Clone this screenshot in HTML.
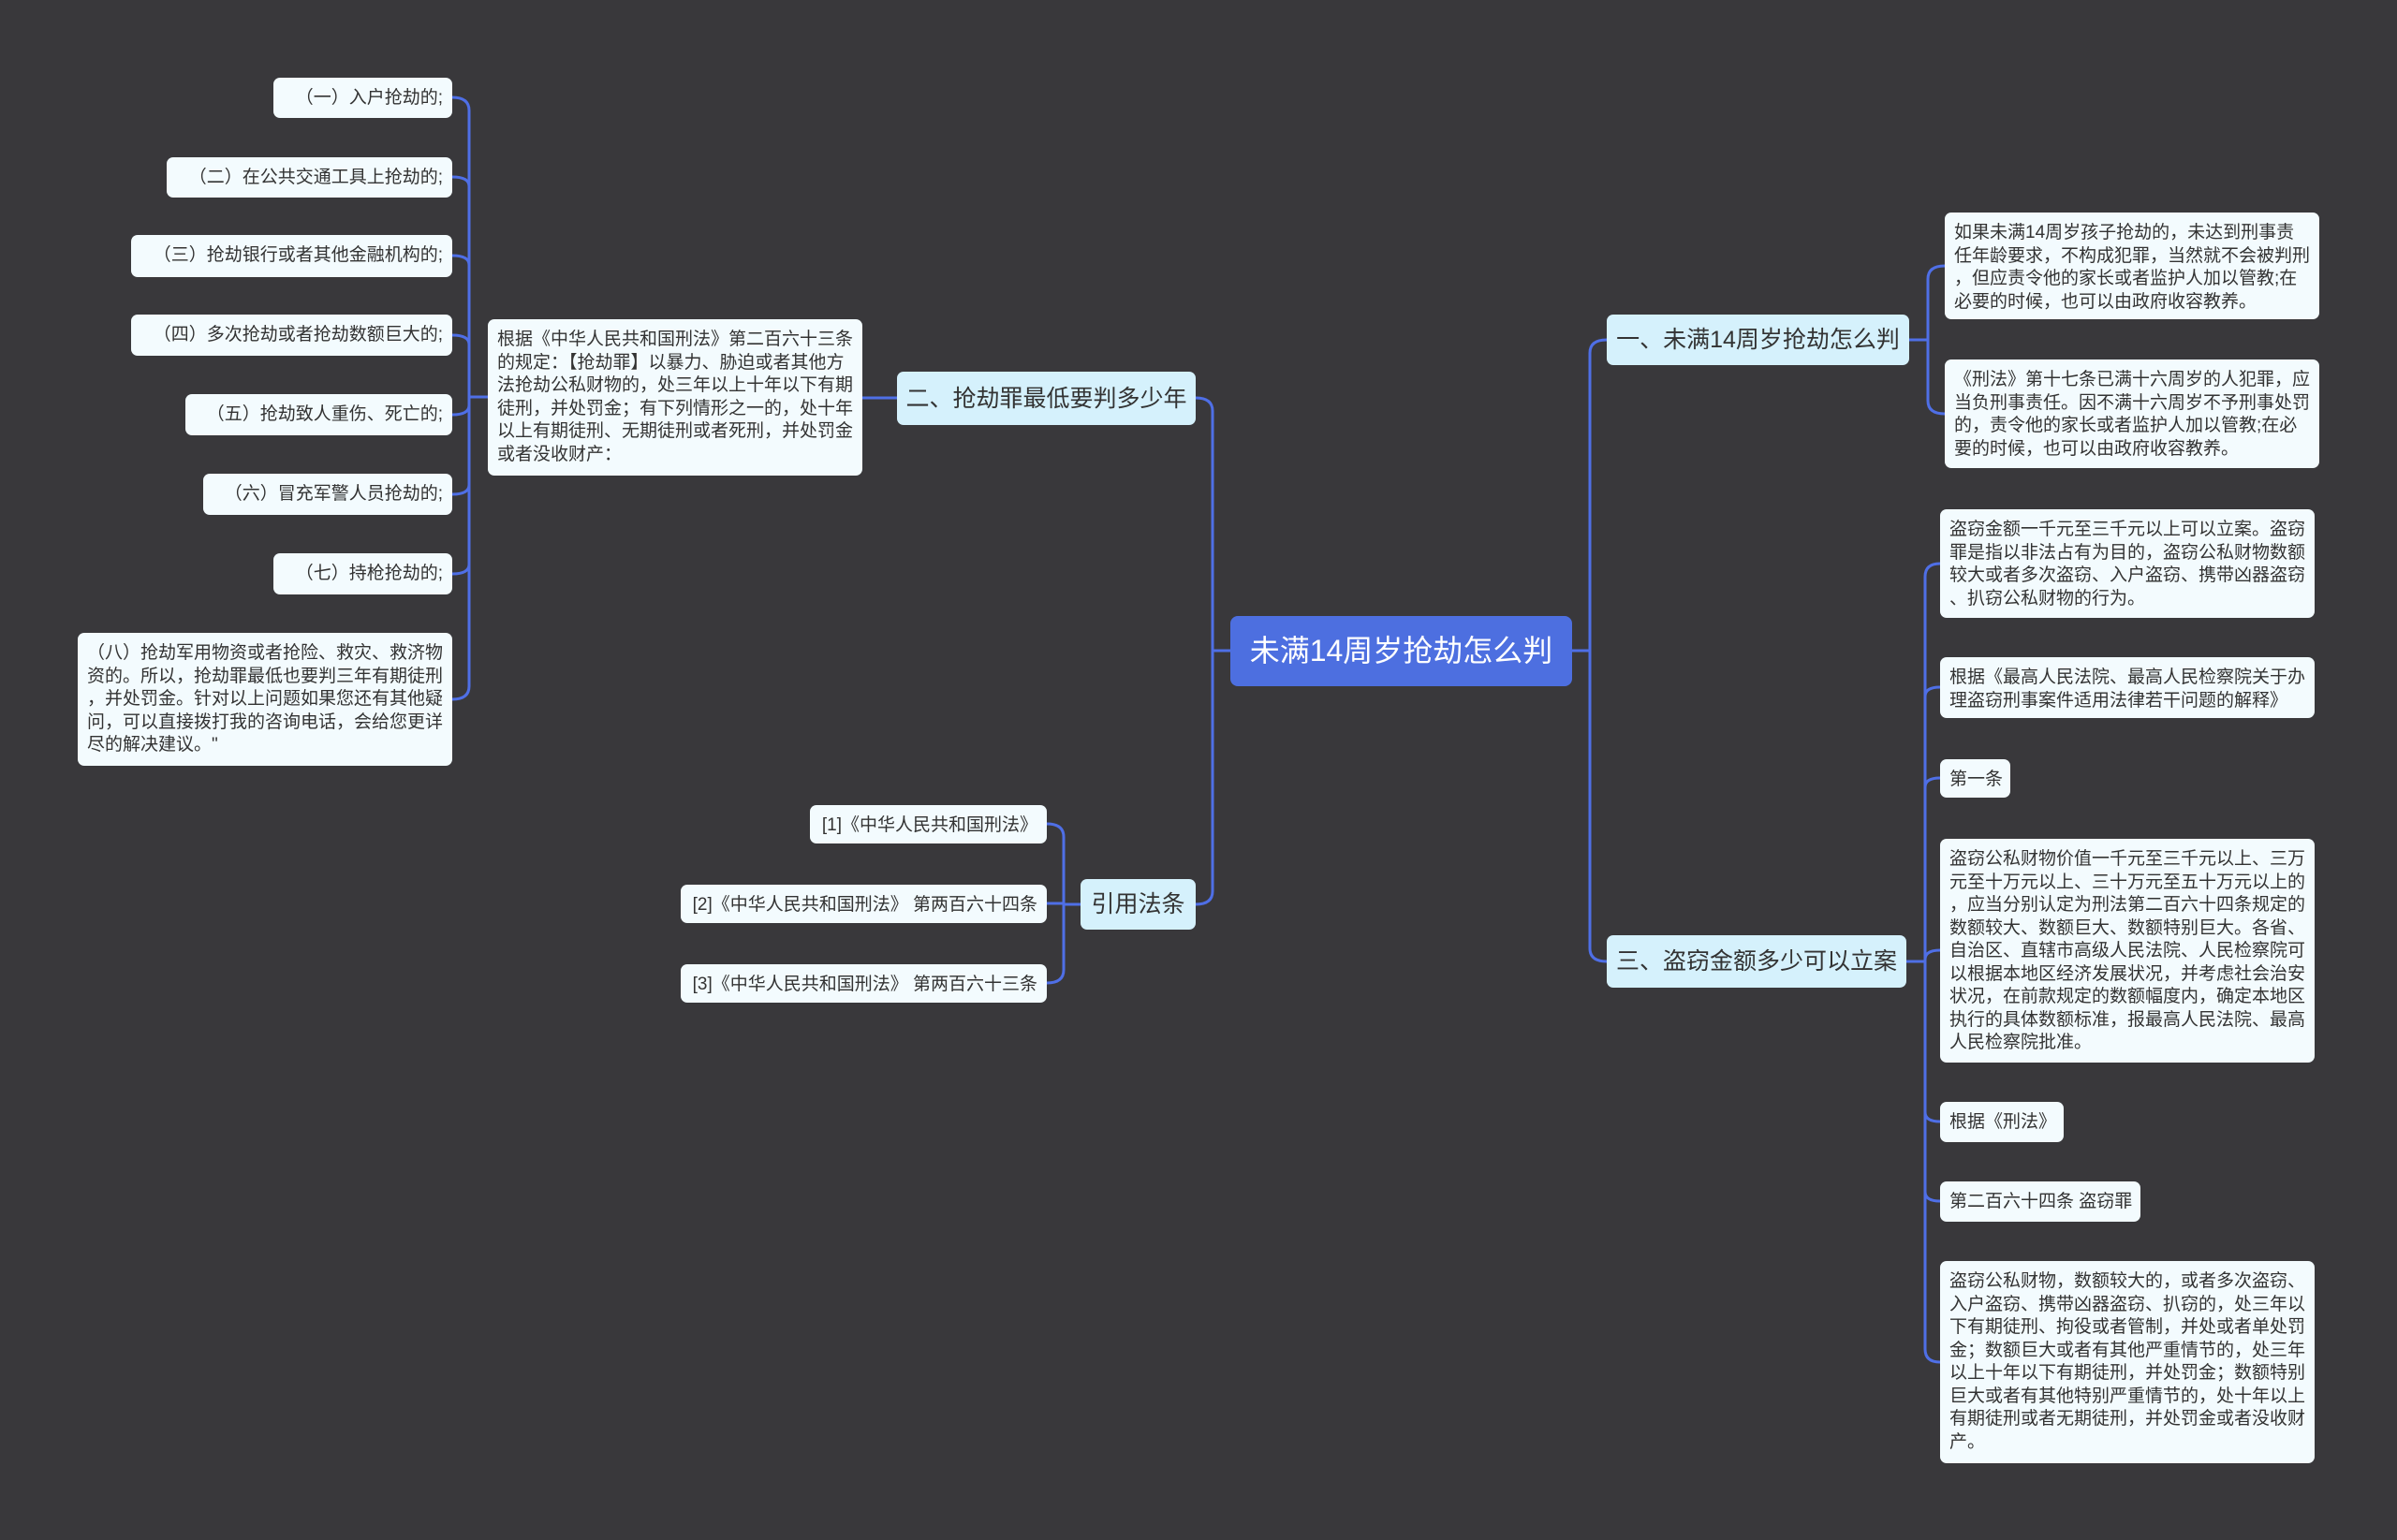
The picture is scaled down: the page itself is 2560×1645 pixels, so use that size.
<!DOCTYPE html>
<html><head><meta charset="utf-8"><style>
body{margin:0;width:2560px;height:1645px;background:#39383b;overflow:hidden;font-family:"Liberation Sans","Noto Sans CJK SC",sans-serif}
.n{position:absolute;box-sizing:border-box;background:#f3fbfe;border-radius:7px;color:#333;font-size:19px;line-height:24.5px;padding:10px 10px 8px;white-space:nowrap}
.r{text-align:right}
.b{background:#d5f1fc;font-size:25px;line-height:30px;display:flex;align-items:center;justify-content:center;padding:0}
.root{background:#4d6fe0;color:#fff;font-size:32px;display:flex;align-items:center;justify-content:center;padding:0;border-radius:8px}
svg{position:absolute;left:0;top:0}
</style></head><body>
<svg width="2560" height="1645" fill="none" stroke="#4f6fe6" stroke-width="3">
<path d="M483,104 Q501,104 501,118 V733 Q501,747 483,747"/>
<path d="M483,189 Q501,189 501,199 M483,273 Q501,273 501,283 M483,358 Q501,358 501,368 M483,443 Q501,443 501,433 M483,528 Q501,528 501,518 M483,613 Q501,613 501,603"/>
<path d="M501,424 H521 M921,425 H958"/>
<path d="M1277,425 Q1295,425 1295,439 V952 Q1295,966 1277,966 M1295,695 H1314"/>
<path d="M1154,966 H1136 M1118,880 Q1136,880 1136,894 V1036 Q1136,1050 1118,1050 M1118,965 H1136"/>
<path d="M1679,695 H1698 M1716,363 Q1698,363 1698,377 V1013 Q1698,1027 1716,1027"/>
<path d="M2039,363 H2059 M2077,284 Q2059,284 2059,298 V428 Q2059,442 2077,442"/>
<path d="M2036,1027 H2056 M2072,602 Q2056,602 2056,616 V1441 Q2056,1455 2072,1455"/>
<path d="M2072,734 Q2056,734 2056,744 M2072,831 Q2056,831 2056,841 M2072,1015 Q2056,1015 2056,1025 M2072,1198 Q2056,1198 2056,1188 M2072,1283 Q2056,1283 2056,1273"/>
</svg>

<div class="n r" style="left:292px;top:83px;width:191px;height:43px">（一）入户抢劫的;</div>
<div class="n r" style="left:178px;top:168px;width:305px;height:43px">（二）在公共交通工具上抢劫的;</div>
<div class="n r" style="left:140px;top:251px;width:343px;height:45px">（三）抢劫银行或者其他金融机构的;</div>
<div class="n r" style="left:140px;top:336px;width:343px;height:44px">（四）多次抢劫或者抢劫数额巨大的;</div>
<div class="n r" style="left:198px;top:421px;width:285px;height:44px">（五）抢劫致人重伤、死亡的;</div>
<div class="n r" style="left:217px;top:506px;width:266px;height:44px">（六）冒充军警人员抢劫的;</div>
<div class="n r" style="left:292px;top:591px;width:191px;height:44px">（七）持枪抢劫的;</div>
<div class="n" style="left:83px;top:676px;width:400px;height:142px">（八）抢劫军用物资或者抢险、救灾、救济物<br>资的。所以，抢劫罪最低也要判三年有期徒刑<br>，并处罚金。针对以上问题如果您还有其他疑<br>问，可以直接拨打我的咨询电话，会给您更详<br>尽的解决建议。"</div>
<div class="n" style="left:521px;top:341px;width:400px;height:167px">根据《中华人民共和国刑法》第二百六十三条<br>的规定：【抢劫罪】以暴力、胁迫或者其他方<br>法抢劫公私财物的，处三年以上十年以下有期<br>徒刑，并处罚金；有下列情形之一的，处十年<br>以上有期徒刑、无期徒刑或者死刑，并处罚金<br>或者没收财产：</div>
<div class="n b" style="left:958px;top:397px;width:319px;height:57px">二、抢劫罪最低要判多少年</div>
<div class="n root" style="left:1314px;top:658px;width:365px;height:75px">未满14周岁抢劫怎么判</div>
<div class="n b" style="left:1154px;top:939px;width:123px;height:54px">引用法条</div>
<div class="n r" style="left:865px;top:860px;width:253px;height:41px">[1]《中华人民共和国刑法》</div>
<div class="n r" style="left:727px;top:945px;width:391px;height:41px">[2]《中华人民共和国刑法》 第两百六十四条</div>
<div class="n r" style="left:727px;top:1030px;width:391px;height:41px">[3]《中华人民共和国刑法》 第两百六十三条</div>
<div class="n b" style="left:1716px;top:336px;width:323px;height:54px">一、未满14周岁抢劫怎么判</div>
<div class="n b" style="left:1716px;top:999px;width:320px;height:56px">三、盗窃金额多少可以立案</div>
<div class="n" style="left:2077px;top:227px;width:400px;height:114px">如果未满14周岁孩子抢劫的，未达到刑事责<br>任年龄要求，不构成犯罪，当然就不会被判刑<br>，但应责令他的家长或者监护人加以管教;在<br>必要的时候，也可以由政府收容教养。</div>
<div class="n" style="left:2077px;top:384px;width:400px;height:116px">《刑法》第十七条已满十六周岁的人犯罪，应<br>当负刑事责任。因不满十六周岁不予刑事处罚<br>的，责令他的家长或者监护人加以管教;在必<br>要的时候，也可以由政府收容教养。</div>
<div class="n" style="left:2072px;top:544px;width:400px;height:116px">盗窃金额一千元至三千元以上可以立案。盗窃<br>罪是指以非法占有为目的，盗窃公私财物数额<br>较大或者多次盗窃、入户盗窃、携带凶器盗窃<br>、扒窃公私财物的行为。</div>
<div class="n" style="left:2072px;top:702px;width:400px;height:65px">根据《最高人民法院、最高人民检察院关于办<br>理盗窃刑事案件适用法律若干问题的解释》</div>
<div class="n" style="left:2072px;top:811px;width:75px;height:41px">第一条</div>
<div class="n" style="left:2072px;top:896px;width:400px;height:239px">盗窃公私财物价值一千元至三千元以上、三万<br>元至十万元以上、三十万元至五十万元以上的<br>，应当分别认定为刑法第二百六十四条规定的<br>数额较大、数额巨大、数额特别巨大。各省、<br>自治区、直辖市高级人民法院、人民检察院可<br>以根据本地区经济发展状况，并考虑社会治安<br>状况，在前款规定的数额幅度内，确定本地区<br>执行的具体数额标准，报最高人民法院、最高<br>人民检察院批准。</div>
<div class="n" style="left:2072px;top:1177px;width:132px;height:43px">根据《刑法》</div>
<div class="n" style="left:2072px;top:1262px;width:214px;height:43px">第二百六十四条 盗窃罪</div>
<div class="n" style="left:2072px;top:1347px;width:400px;height:216px">盗窃公私财物，数额较大的，或者多次盗窃、<br>入户盗窃、携带凶器盗窃、扒窃的，处三年以<br>下有期徒刑、拘役或者管制，并处或者单处罚<br>金；数额巨大或者有其他严重情节的，处三年<br>以上十年以下有期徒刑，并处罚金；数额特别<br>巨大或者有其他特别严重情节的，处十年以上<br>有期徒刑或者无期徒刑，并处罚金或者没收财<br>产。</div>
</body></html>
